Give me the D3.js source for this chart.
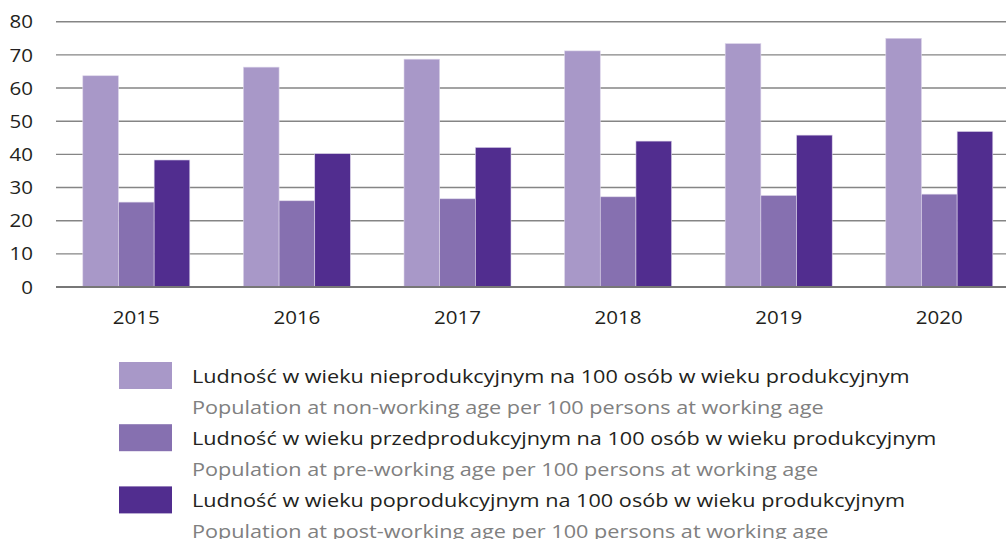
<!DOCTYPE html>
<html lang="pl">
<head>
<meta charset="UTF-8">
<title>Wskaźnik obciążenia demograficznego</title>
<script src="https://cdn.jsdelivr.net/npm/d3@7"></script>
<style>
  body { margin: 0; background: #fff; }
  svg text { font-family: "Open Sans", "Noto Sans", sans-serif; }
</style>
</head>
<body>
<div id="chart"></div>
<script>
const years = ['2015', '2016', '2017', '2018', '2019', '2020']
const nonWorking = [63.7, 66.3, 68.7, 71.2, 73.4, 75.0]
const preWorking = [25.6, 26.0, 26.6, 27.2, 27.6, 28.0]
const postWorking = [38.3, 40.2, 42.1, 44.0, 45.8, 46.9]
const yTicks = [0, 10, 20, 30, 40, 50, 60, 70, 80]

const seriesNames = ['non', 'pre', 'post']
const seriesValues = [nonWorking, preWorking, postWorking]
const colours = ['#a898c8', '#8670b0', '#512d8f']
const labelsPl = [
  'Ludność w wieku nieprodukcyjnym na 100 osób w wieku produkcyjnym',
  'Ludność w wieku przedprodukcyjnym na 100 osób w wieku produkcyjnym',
  'Ludność w wieku poprodukcyjnym na 100 osób w wieku produkcyjnym'
]
const labelsEn = [
  'Population at non-working age per 100 persons at working age',
  'Population at pre-working age per 100 persons at working age',
  'Population at post-working age per 100 persons at working age'
]

const width = 1006
const height = 539

const svg = d3.select('#chart').append('svg')
  .attr('width', width)
  .attr('height', height)

// the source font runs wider than Open Sans, stretch text a bit
function stretch(sel, k) {
  sel.each(function () {
    const len = this.getComputedTextLength()
    d3.select(this)
      .attr('textLength', len * k)
      .attr('lengthAdjust', 'spacingAndGlyphs')
  })
}

const x0 = d3.scaleBand().domain(years).range([56, 1019.6])
const groupW = 107
const x1 = d3.scaleBand().domain(seriesNames).range([0, groupW])
const y = d3.scaleLinear().domain([0, 80]).range([287, 21.7])

// grid
svg.append('g')
  .selectAll('line')
  .data(yTicks.filter(d => d > 0))
  .enter()
  .append('line')
  .attr('x1', 56)
  .attr('x2', width)
  .attr('y1', d => y(d))
  .attr('y2', d => y(d))
  .attr('stroke', '#858585')
  .attr('stroke-width', 1.4)

// y labels
svg.append('g')
  .selectAll('text')
  .data(yTicks)
  .enter()
  .append('text')
  .attr('x', 33)
  .attr('y', d => y(d))
  .attr('dy', '0.35em')
  .attr('text-anchor', 'end')
  .attr('font-size', 19)
  .attr('fill', '#231f20')
  .text(d => d)
  .call(stretch, 1.08)

// bars
const groups = svg.append('g')
  .selectAll('g')
  .data(years)
  .enter()
  .append('g')
  .attr('transform', d => `translate(${x0(d) + (x0.bandwidth() - groupW) / 2},0)`)

groups.selectAll('rect')
  .data((d, i) => seriesNames.map((s, j) => ({ s: s, v: seriesValues[j][i], c: colours[j] })))
  .enter()
  .append('rect')
  .attr('x', d => x1(d.s))
  .attr('y', d => y(d.v))
  .attr('width', x1.bandwidth())
  .attr('height', d => y(0) - y(d.v))
  .attr('fill', d => d.c)
  .attr('stroke', '#ddd6ea')
  .attr('stroke-width', 0.6)

// baseline
svg.append('line')
  .attr('x1', 56)
  .attr('x2', width)
  .attr('y1', y(0))
  .attr('y2', y(0))
  .attr('stroke', '#777')
  .attr('stroke-width', 2)

// year labels
svg.append('g')
  .selectAll('text')
  .data(years)
  .enter()
  .append('text')
  .attr('x', d => x0(d) + x0.bandwidth() / 2)
  .attr('y', 324)
  .attr('text-anchor', 'middle')
  .attr('font-size', 19)
  .attr('fill', '#231f20')
  .text(d => d)
  .call(stretch, 1.08)

// legend
const legend = svg.append('g')
  .selectAll('g')
  .data(seriesNames)
  .enter()
  .append('g')
  .attr('transform', (d, i) => `translate(119,${362 + i * 62.2})`)

legend.append('rect')
  .attr('width', 53)
  .attr('height', 27)
  .attr('fill', (d, i) => colours[i])

legend.append('text')
  .attr('x', 73)
  .attr('y', 20.5)
  .attr('font-size', 18.5)
  .attr('fill', '#231f20')
  .text((d, i) => labelsPl[i])
  .call(stretch, 1.17)

legend.append('text')
  .attr('x', 73)
  .attr('y', 51.5)
  .attr('font-size', 18.5)
  .attr('fill', '#808080')
  .text((d, i) => labelsEn[i])
  .call(stretch, 1.17)
</script>
</body>
</html>
